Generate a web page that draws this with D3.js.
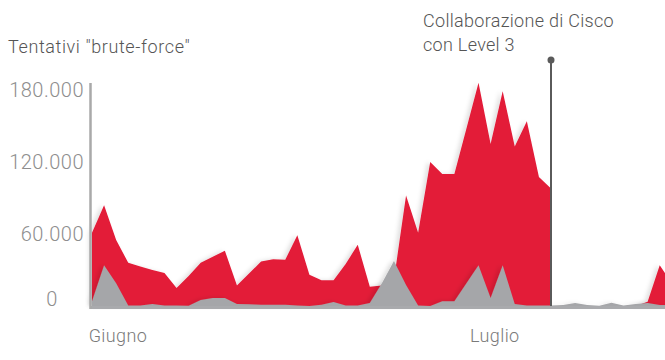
<!DOCTYPE html>
<html>
<head>
<meta charset="utf-8">
<script src="https://cdn.jsdelivr.net/npm/d3@7"></script>
<style>
  html, body { margin: 0; padding: 0; background: #fff; }
  svg { display: block; font-family: Roboto, "Liberation Sans", sans-serif; }
</style>
</head>
<body>
<svg id="chart" width="665" height="360"></svg>
<script>
// Brute-force attempts, one sample per step (June – July)
const bruteForce = [61000, 84000, 55000, 36000, 33000, 30000, 27500, 15000, 25000, 36000,
  41000, 46000, 17000, 27000, 37000, 39000, 38500, 59000, 26000, 21500,
  21500, 35000, 51000, 16000, 17000, 22000, 92000, 61000, 120000, 110000,
  110000, 148000, 186000, 135000, 179000, 133000, 154000, 107500, 98000, null,
  null, null, null, null, null, 0, 3500, 34000, 19000];

// Baseline series drawn in front
const baseline = [4000, 34000, 19000, 500, 500, 1700, 500, 500, 300, 5000,
  6700, 6700, 1700, 1500, 1000, 1000, 1000, 400, 0, 1000,
  3300, 500, 500, 2500, 19000, 37500, 17500, 500, 0, 4000,
  4000, 19000, 34000, 6700, 34000, 1700, 500, 500, 500, 800,
  2500, 800, 300, 2800, 400, 1700, 2500, 800, 800];

const yTicks = [0, 60000, 120000, 180000];
const months = ["Giugno", "Luglio"];
const monthAt = [2.15, 33.35];

const eventIndex = 38;
const eventLines = ["Collaborazione di Cisco", "con Level 3"];
const title = 'Tentativi "brute-force"';

const itLocale = d3.formatLocale({ decimal: ",", thousands: ".", grouping: [3], currency: ["€", ""] });
const fmt = itLocale.format(",d");

const svg = d3.select("#chart");

const x = d3.scaleLinear().domain([0, 38]).range([92, 551]);
const y = d3.scaleLinear().domain([0, 180000]).range([306, 90]);

const defs = svg.append("defs");
const shadow = defs.append("filter").attr("id", "soft").attr("x", "-10%").attr("y", "-10%")
  .attr("width", "120%").attr("height", "120%");
shadow.append("feDropShadow").attr("dx", -3).attr("dy", 0).attr("stdDeviation", 2)
  .attr("flood-color", "#000").attr("flood-opacity", 0.12);

const idx = d3.range(bruteForce.length);

const redArea = d3.area()
  .defined(i => bruteForce[i] !== null)
  .x(i => x(i)).y0(y(0)).y1(i => y(bruteForce[i]));

const grayArea = d3.area()
  .x(i => x(i)).y0(y(0)).y1(i => y(baseline[i]));

const plot = svg.append("g");

plot.append("path").datum(idx)
  .attr("d", redArea).attr("fill", "#e31a38").attr("filter", "url(#soft)");

plot.append("path").datum(idx)
  .attr("d", grayArea).attr("fill", "#a5a6a9").attr("filter", "url(#soft)");

// x baseline and y axis line
svg.append("line").attr("x1", 90).attr("x2", 665)
  .attr("y1", y(0) + 1.5).attr("y2", y(0) + 1.5)
  .attr("stroke", "#a9aaad").attr("stroke-width", 3);

svg.append("line").attr("x1", 90.5).attr("x2", 90.5)
  .attr("y1", 83).attr("y2", y(0) + 3)
  .attr("stroke", "#a9a9a9").attr("stroke-width", 2.5);

// y tick labels
const yAxis = svg.append("g").attr("transform", "translate(84,0)")
  .call(d3.axisLeft(y).tickValues(yTicks).tickFormat(fmt).tickSize(0).tickPadding(0));
yAxis.select(".domain").remove();
yAxis.selectAll("text")
  .attr("font-family", "Roboto, 'Liberation Sans', sans-serif")
  .attr("font-size", 20).attr("font-weight", 300).attr("letter-spacing", 0.5)
  .attr("fill", "#8e8e8e");
yAxis.selectAll(".tick").filter(d => d === 0).select("text")
  .attr("text-anchor", "middle").attr("x", -32).attr("dy", "-0.05em");

// month labels
svg.append("g").selectAll("text").data(months).join("text")
  .attr("x", (d, i) => x(monthAt[i])).attr("y", 342)
  .attr("text-anchor", "middle")
  .attr("font-size", 18).attr("font-weight", 300).attr("letter-spacing", 0.4)
  .attr("fill", "#7a7a7a")
  .text(d => d);

// title
svg.append("text").attr("x", 8).attr("y", 53)
  .attr("font-size", 18).attr("font-weight", 300).attr("letter-spacing", 0.6)
  .attr("fill", "#555")
  .text(title);

// event marker
const ex = x(eventIndex);
svg.append("line").attr("x1", ex).attr("x2", ex).attr("y1", 60).attr("y2", y(0))
  .attr("stroke", "#5a5a5a").attr("stroke-width", 2);
svg.append("circle").attr("cx", ex).attr("cy", 60).attr("r", 3.5).attr("fill", "#5a5a5a");

svg.append("g").selectAll("text").data(eventLines).join("text")
  .attr("x", ex - 128).attr("y", (d, i) => 27 + i * 24)
  .attr("font-size", 18).attr("font-weight", 300).attr("letter-spacing", 0.3)
  .attr("fill", "#555")
  .text(d => d);
</script>
</body>
</html>
